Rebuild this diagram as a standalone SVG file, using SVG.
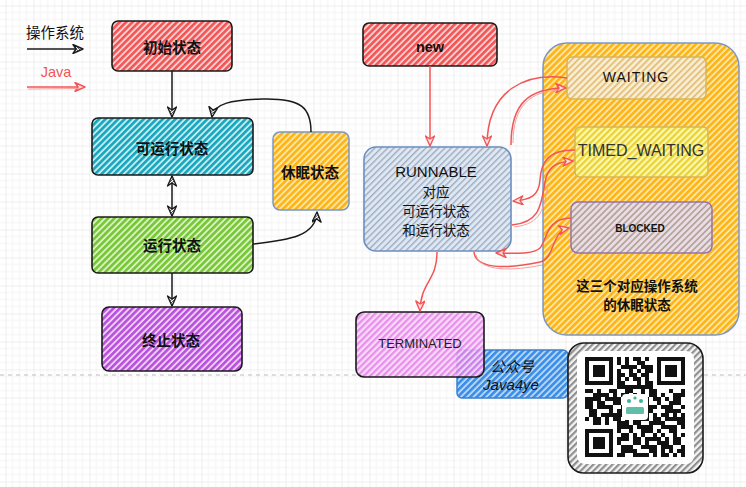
<svg xmlns="http://www.w3.org/2000/svg" width="746" height="487" viewBox="0 0 746 487">
<style>
.cn{font-family:"Noto Sans CJK SC","Noto Sans",sans-serif;font-size:14.5px;font-weight:bold;fill:#111;text-anchor:middle}
.sm{font-size:13.5px}
.en{font-family:"Liberation Sans","Noto Sans",sans-serif;fill:#111;text-anchor:middle}
.bk{fill:none;stroke:#1a1a1a;stroke-width:1.5}
.rd{fill:none;stroke:#f25555;stroke-width:1.5}
.rd2{fill:none;stroke:#f7a0a0;stroke-width:1}
.box{stroke:#1a1a1a;stroke-width:1.6}
</style>
<defs>
<pattern id="grid" width="28" height="28" patternUnits="userSpaceOnUse" x="5.5" y="5.5">
<path d="M7,0V28M14,0V28M21,0V28M0,7H28M0,14H28M0,21H28" stroke="#f3f3f3" stroke-width="1"/>
<path d="M0,0V28M0,0H28" stroke="#dedede" stroke-width="1"/>
</pattern>
<pattern id="hRed" width="4.5" height="4.5" patternUnits="userSpaceOnUse" patternTransform="rotate(45)"><rect width="4.5" height="4.5" fill="#fcd0d0"/><rect width="2.6" height="4.5" fill="#f25555"/></pattern>
<pattern id="hCyan" width="4.5" height="4.5" patternUnits="userSpaceOnUse" patternTransform="rotate(45)"><rect width="4.5" height="4.5" fill="#c2ecf2"/><rect width="2.6" height="4.5" fill="#17a6bd"/></pattern>
<pattern id="hGreen" width="4.5" height="4.5" patternUnits="userSpaceOnUse" patternTransform="rotate(45)"><rect width="4.5" height="4.5" fill="#d8f2c0"/><rect width="2.6" height="4.5" fill="#76c635"/></pattern>
<pattern id="hPurple" width="4.5" height="4.5" patternUnits="userSpaceOnUse" patternTransform="rotate(45)"><rect width="4.5" height="4.5" fill="#eed0f8"/><rect width="2.6" height="4.5" fill="#b950dc"/></pattern>
<pattern id="hOrange" width="4.5" height="4.5" patternUnits="userSpaceOnUse" patternTransform="rotate(45)"><rect width="4.5" height="4.5" fill="#ffe6a6"/><rect width="2.6" height="4.5" fill="#fdb414"/></pattern>
<pattern id="hRun" width="4.5" height="4.5" patternUnits="userSpaceOnUse" patternTransform="rotate(45)"><rect width="4.5" height="4.5" fill="#dde8f7"/><rect width="1.4" height="4.5" fill="#a3acb8"/></pattern>
<pattern id="hWait" width="4.5" height="4.5" patternUnits="userSpaceOnUse" patternTransform="rotate(45)"><rect width="4.5" height="4.5" fill="#faefd6"/><rect width="2" height="4.5" fill="#e4c27e"/></pattern>
<pattern id="hTimed" width="4.5" height="4.5" patternUnits="userSpaceOnUse" patternTransform="rotate(45)"><rect width="4.5" height="4.5" fill="#fff8b0"/><rect width="2.3" height="4.5" fill="#e9d334"/></pattern>
<pattern id="hBlock" width="4.5" height="4.5" patternUnits="userSpaceOnUse" patternTransform="rotate(45)"><rect width="4.5" height="4.5" fill="#e9dde6"/><rect width="1.8" height="4.5" fill="#b7a49a"/></pattern>
<pattern id="hTerm" width="4.5" height="4.5" patternUnits="userSpaceOnUse" patternTransform="rotate(45)"><rect width="4.5" height="4.5" fill="#f9d6f9"/><rect width="2.3" height="4.5" fill="#e47de9"/></pattern>
<pattern id="hBlue" width="4.5" height="4.5" patternUnits="userSpaceOnUse" patternTransform="rotate(45)"><rect width="4.5" height="4.5" fill="#b8d7f8"/><rect width="2.6" height="4.5" fill="#3a8ee6"/></pattern>
<pattern id="hGray" width="4.5" height="4.5" patternUnits="userSpaceOnUse" patternTransform="rotate(45)"><rect width="4.5" height="4.5" fill="#f4f4f4"/><rect width="2.2" height="4.5" fill="#8f8f8f"/></pattern>
<pattern id="qa" width="20" height="20" patternUnits="userSpaceOnUse" x="585" y="357"><path d="M0,0h4v4h-4zM8,0h8v4h-8zM12,4h4v4h-4zM0,8h8v4h-8zM16,8h4v4h-4zM4,12h4v4h-4zM8,16h4v4h-4zM16,16h4v4h-4z" fill="#111"/></pattern>
<pattern id="qb" width="28" height="28" patternUnits="userSpaceOnUse" x="585" y="357"><path d="M4,0h4v4h-4zM20,0h8v4h-8zM0,4h4v4h-4zM12,4h4v4h-4zM8,8h8v4h-8zM20,8h4v4h-4zM4,12h4v4h-4zM24,12h4v4h-4zM0,16h8v4h-8zM16,16h4v4h-4zM12,20h4v4h-4zM20,20h4v4h-4zM4,24h8v4h-8zM24,24h4v4h-4z" fill="#111"/></pattern>
<marker id="aB" viewBox="0 0 12 10" refX="11" refY="5" markerWidth="12" markerHeight="10" markerUnits="userSpaceOnUse" orient="auto-start-reverse"><path d="M1,0.5 L11,5 L1,9.5 L4,5 Z" fill="#fff" stroke="#1a1a1a" stroke-width="1.4" stroke-linejoin="round"/><path d="M3,2.5 L6,7.5 M5,2.8 L8,6" stroke="#1a1a1a" stroke-width="0.8"/></marker>
<marker id="aR" viewBox="0 0 12 10" refX="11" refY="5" markerWidth="12" markerHeight="10" markerUnits="userSpaceOnUse" orient="auto-start-reverse"><path d="M1,0.5 L11,5 L1,9.5 L4,5 Z" fill="#fde0e0" stroke="#f25555" stroke-width="1.4" stroke-linejoin="round"/></marker>
</defs>
<rect width="746" height="487" fill="#fff"/>
<rect width="746" height="487" fill="url(#grid)"/>
<line x1="0" y1="375" x2="746" y2="375" stroke="#bdbdbd" stroke-width="1" stroke-dasharray="4 4"/>

<g id="legend">
<text x="55" y="38" style="font-family:'Noto Sans CJK SC',sans-serif;font-size:14.5px;fill:#111;text-anchor:middle">操作系统</text>
<path class="bk" d="M27,49 L83,49" marker-end="url(#aB)"/>
<text x="56" y="77" class="en" style="font-size:14.5px;fill:#f25555">Java</text>
<path class="rd" d="M27,87 L85,87" marker-end="url(#aR)"/>
<path class="rd2" d="M28,89 L80,88.5"/>
</g>

<g id="panel">
<rect x="543" y="43" width="196" height="292" rx="24" fill="url(#hOrange)" stroke="#7b98c4" stroke-width="1.5"/>
<text x="637" y="291" class="cn sm">这三个对应操作系统</text>
<text x="637" y="310" class="cn sm">的休眠状态</text>
</g>

<g id="init">
<rect x="112" y="21" width="120" height="50" rx="6" fill="url(#hRed)" class="box"/>
<text x="172" y="53" class="cn">初始状态</text>
</g>
<g id="runnable-os">
<rect x="92" y="118" width="161" height="57" rx="6" fill="url(#hCyan)" class="box"/>
<text x="172" y="154" class="cn">可运行状态</text>
</g>
<g id="running-os">
<rect x="92" y="217" width="161" height="56" rx="6" fill="url(#hGreen)" class="box"/>
<text x="172" y="251" class="cn">运行状态</text>
</g>
<g id="terminated-os">
<rect x="102" y="307" width="140" height="64" rx="7" fill="url(#hPurple)" class="box"/>
<text x="171" y="346" class="cn">终止状态</text>
</g>
<g id="sleep-os">
<rect x="273" y="132" width="76" height="78" rx="7" fill="url(#hOrange)" stroke="#7b98c4" stroke-width="1.5"/>
<text x="310" y="178" class="cn">休眠状态</text>
</g>

<g id="new">
<rect x="363" y="23" width="134" height="43" rx="6" fill="url(#hRed)" class="box"/>
<text x="430" y="52" class="en" style="font-size:14.5px;font-weight:bold">new</text>
</g>
<g id="runnable">
<rect x="364" y="147" width="147" height="104" rx="12" fill="url(#hRun)" stroke="#6c8ebf" stroke-width="1.6"/>
<text x="436" y="177" class="en" style="font-size:15px">RUNNABLE</text>
<text x="436" y="197" class="cn sm" style="font-weight:normal">对应</text>
<text x="436" y="216" class="cn sm" style="font-weight:normal">可运行状态</text>
<text x="436" y="235" class="cn sm" style="font-weight:normal">和运行状态</text>
</g>
<g id="waiting">
<rect x="567" y="57" width="139" height="42" rx="5" fill="url(#hWait)" stroke="#d6b656" stroke-width="1.5"/>
<text x="636" y="82" class="en" style="font-size:14px;letter-spacing:1px">WAITING</text>
</g>
<g id="timed">
<rect x="575" y="127" width="133" height="50" rx="5" fill="url(#hTimed)" stroke="#d6b656" stroke-width="1.5"/>
<text x="641" y="155.5" class="en" style="font-size:16px;fill:#333">TIMED_WAITING</text>
</g>
<g id="blocked">
<rect x="571" y="202" width="141" height="51" rx="7" fill="url(#hBlock)" stroke="#9673a6" stroke-width="1.5"/>
<text x="640" y="232" class="en" style="font-size:10px;font-weight:bold">BLOCKED</text>
</g>

<g id="gzh">
<rect x="457" y="350" width="111" height="48" rx="5" fill="url(#hBlue)" stroke="#3d7fd0" stroke-width="1.5"/>
<text x="512" y="372" class="cn" style="font-weight:normal;font-style:italic">公众号</text>
<text x="511" y="390" class="en" style="font-size:15px;font-style:italic">Java4ye</text>
</g>
<g id="terminated">
<rect x="356" y="312" width="128" height="65" rx="8" fill="url(#hTerm)" fill-opacity="0.85" class="box" stroke="#333"/>
<text x="420" y="348" class="en" style="font-size:13px;fill:#222">TERMINATED</text>
</g>

<g id="qrcode">
<rect x="568" y="343" width="135" height="130" rx="16" fill="url(#hGray)" class="box"/>
<rect x="577" y="351" width="117" height="113" rx="8" fill="#fff"/>
<rect x="585" y="357" width="100" height="100" fill="url(#qa)"/>
<rect x="585" y="357" width="100" height="100" fill="url(#qb)"/>
<rect x="585" y="357" width="32" height="32" fill="#fff"/>
<rect x="653" y="357" width="32" height="32" fill="#fff"/>
<rect x="585" y="425" width="32" height="32" fill="#fff"/>
<rect x="585" y="357" width="28" height="28" fill="#111"/><rect x="589" y="361" width="20" height="20" fill="#fff"/><rect x="593" y="365" width="12" height="12" fill="#111"/>
<rect x="657" y="357" width="28" height="28" fill="#111"/><rect x="661" y="361" width="20" height="20" fill="#fff"/><rect x="665" y="365" width="12" height="12" fill="#111"/>
<rect x="585" y="429" width="28" height="28" fill="#111"/><rect x="589" y="433" width="20" height="20" fill="#fff"/><rect x="593" y="437" width="12" height="12" fill="#111"/>
<rect x="622" y="394" width="26" height="26" rx="4" fill="#fff"/>
<circle cx="629" cy="401" r="2" fill="#3bb39a"/><circle cx="641" cy="401" r="2" fill="#3bb39a"/><circle cx="635" cy="398" r="1.6" fill="#3bb39a"/>
<rect x="626" y="407" width="18" height="7" rx="1.5" fill="#5fbfa8"/>
</g>

<g id="connectors">
<path class="bk" d="M172,71 L172,117" marker-end="url(#aB)"/>
<path class="bk" d="M172,176 L172,216" marker-start="url(#aB)" marker-end="url(#aB)"/>
<path class="bk" d="M172,273 L172,306" marker-end="url(#aB)"/>
<path class="bk" d="M253,244 C290,240 316,236 317,212" marker-end="url(#aB)"/>
<path class="bk" d="M311,132 C311,108 302,98 262,99 C232,100 214,103 212,117" marker-end="url(#aB)"/>
<path class="rd" d="M430,66 L430,146" marker-end="url(#aR)"/>
<path class="rd" d="M437,252 C437,282 421,280 420,311" marker-end="url(#aR)"/>
<path class="rd" d="M567,78 C528,72 487,88 487,146" marker-end="url(#aR)"/>
<path class="rd" d="M511,145 C511,104 528,88 566,88" marker-end="url(#aR)"/>
<path class="rd2" d="M513,143 C513,106 530,91 560,90"/>
<path class="rd" d="M575,150 C546,150 541,164 540,180 C539,196 530,200 513,201" marker-end="url(#aR)"/>
<path class="rd" d="M512,225 C540,222 541,206 545,182 C548,166 556,162 573,161" marker-end="url(#aR)"/>
<path class="rd2" d="M514,227 C542,224 544,208 548,184"/>
<path class="rd" d="M571,218 C546,218 547,240 540,248 C532,255 515,253 496,253" marker-end="url(#aR)"/>
<path class="rd" d="M474,252 C476,271 512,268 540,262 C556,258 550,232 569,228" marker-end="url(#aR)"/>
<path class="rd2" d="M476,255 C480,272 514,271 542,265"/>
</g>
</svg>
